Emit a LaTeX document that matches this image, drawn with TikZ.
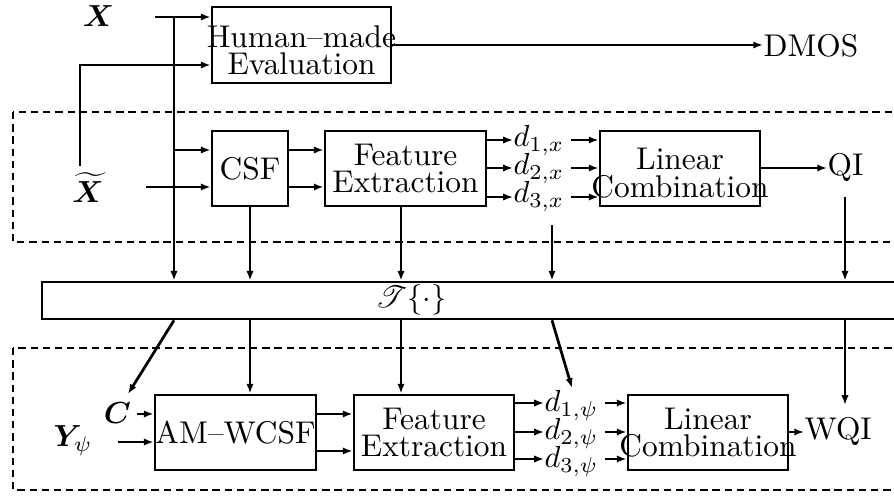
\documentclass[tikz,border=0pt]{standalone}
\usepackage{amsmath,amssymb,bm,mathrsfs}
\usetikzlibrary{arrows.meta,calc}
\newcommand\ovl[1]{\makebox[0pt]{#1}}
\begin{document}
\begin{tikzpicture}[x=0.328pt,y=-0.328pt,
  every node/.style={font=\fontsize{10.3}{9}\selectfont, inner sep=0pt},
  blk/.style={draw, line width=0.9pt, align=center, minimum height=24.6pt},
  ln/.style={line width=0.9pt},
  arr/.style={line width=0.9pt, -{Latex[length=3.2pt,width=2.4pt]}},
  dbox/.style={line width=0.9pt, dash pattern=on 2.4pt off 1.6pt},
  lab/.style={anchor=base west}]
\useasboundingbox (0,0) rectangle (894,496);

% dashed regions
\draw[dbox] (13,112) rectangle (920,242);
\draw[dbox] (13,348) rectangle (920,490);

% boxes
\node[blk, minimum width=58.7pt, minimum height=24.9pt] (hm) at (301.5,45) {\ovl{\rule{0pt}{10.7pt}Human--made}\\\ovl{Evaluation}};
\node[blk, minimum width=24.9pt] (csf) at (250,168.5) {CSF};
\node[blk, minimum width=52.8pt] (fe1) at (405.5,168.5) {\ovl{Feature}\\\ovl{Extraction}};
\node[blk, minimum width=52.5pt] (lc1) at (680,168.5) {\ovl{\rule{0pt}{10.2pt}Linear}\\\ovl{Combination}};
\node[draw, line width=0.9pt, minimum width=287.3pt, minimum height=12.1pt] (tb) at (480,300.5) {};
\node (tt) at (411,300) {$\mathscr{T}\{\cdot\}$};
\node[blk, minimum width=52.8pt] (amw) at (235.5,432.5) {\ovl{AM--WCSF}};
\node[blk, minimum width=52.5pt] (fe2) at (434,432.5) {\ovl{Feature}\\\ovl{Extraction}};
\node[blk, minimum width=52.5pt] (lc2) at (708,432.5) {\ovl{Linear}\\\ovl{Combination}};

% labels
\node[anchor=base] (x) at (98.5,27) {$\bm{X}$};
\node[anchor=base, font=\fontsize{10}{12}\selectfont] (xt) at (88,203) {$\widetilde{\bm{X}}$};
\node[anchor=base] (c) at (117.5,424) {$\bm{C}$};
\node[lab] (y) at (53,447) {$\bm{Y}_{\psi}$};
\node[lab] (dmos) at (763,57) {DMOS};
\node[lab] (qi) at (827,176) {QI};
\node[lab] (wqi) at (804,440) {WQI};
\node[lab] (d1x) at (513,147) {$d_{1,x}$};
\node[lab] (d2x) at (513,175) {$d_{2,x}$};
\node[lab] (d3x) at (513,203) {$d_{3,x}$};
\node[lab] (d1p) at (544,412) {$d_{1,\psi}$};
\node[lab] (d2p) at (544,440) {$d_{2,\psi}$};
\node[lab] (d3p) at (544,468) {$d_{3,\psi}$};

% reference coordinates
\coordinate (xin) at (155,17);
\coordinate (xj) at (174,17);
\coordinate (xtv) at (80,166);
\coordinate (xtin) at (146,187);
\coordinate (csfA) at ($(csf.west)+(0,-18.5)$);
\coordinate (csfB) at ($(csf.west)+(0,18.5)$);
\coordinate (r1) at (0,140);
\coordinate (r2) at (0,168);
\coordinate (r3) at (0,197);
\coordinate (fev) at (401,0);
\coordinate (d3v) at (552,225);
\coordinate (qid) at (845,197);
\coordinate (ctip) at (128,394);
\coordinate (dtip) at (572,388);
\coordinate (wtip) at (845,405);
\coordinate (cin) at (137,414);
\coordinate (yin) at (118,442);
\coordinate (amA) at ($(amw.east)+(0,-18.5)$);
\coordinate (amB) at ($(amw.east)+(0,18.5)$);
\coordinate (r4) at (0,403);
\coordinate (r5) at (0,432);
\coordinate (r6) at (0,459);

% top: inputs to human evaluation
\draw[arr] (xin) -- (xin -| hm.west);
\draw[arr] (xtv) |- ($(hm.west)+(0,20)$);
\draw[arr] (hm.east) -- (hm.east -| dmos.west);

% upper chain
\draw[arr] (xj) -- (xj |- tb.north);
\draw[arr] (xj |- csfA) -- (csfA);
\draw[arr] (xtin) -- (xtin -| csf.west);
\draw[arr] (csfA -| csf.east) -- (csfA -| fe1.west);
\draw[arr] (csfB -| csf.east) -- (csfB -| fe1.west);
\draw[arr] (fe1.east |- r1) -- (d1x.west |- r1);
\draw[arr] (fe1.east |- r2) -- (d2x.west |- r2);
\draw[arr] (fe1.east |- r3) -- (d3x.west |- r3);
\draw[arr, shorten <=2pt] (d1x.east |- r1) -- (lc1.west |- r1);
\draw[arr, shorten <=2pt] (d2x.east |- r2) -- (lc1.west |- r2);
\draw[arr, shorten <=2pt] (d3x.east |- r3) -- (lc1.west |- r3);
\draw[arr] (lc1.east |- r2) -- (qi.west |- r2);

% into T
\draw[arr] (csf.south) -- (csf.south |- tb.north);
\draw[arr] (fev |- fe1.south) -- (fev |- tb.north);
\draw[arr] (d3v) -- (d3v |- tb.north);
\draw[arr] (qid) -- (qid |- tb.north);

% out of T
\draw[arr] (xj |- tb.south) -- (ctip);
\draw[arr] (csf.south |- tb.south) -- (csf.south |- amw.north);
\draw[arr] (fev |- tb.south) -- (fev |- fe2.north);
\draw[arr] (d3v |- tb.south) -- (dtip);
\draw[arr] (qid |- tb.south) -- (wtip);

% lower chain
\draw[arr] (cin) -- (cin -| amw.west);
\draw[arr] (yin) -- (yin -| amw.west);
\draw[arr] (amA) -- (amA -| fe2.west);
\draw[arr] (amB) -- (amB -| fe2.west);
\draw[arr] (fe2.east |- r4) -- (d1p.west |- r4);
\draw[arr] (fe2.east |- r5) -- (d2p.west |- r5);
\draw[arr] (fe2.east |- r6) -- (d3p.west |- r6);
\draw[arr, shorten <=2pt] (d1p.east |- r4) -- (lc2.west |- r4);
\draw[arr, shorten <=2pt] (d2p.east |- r5) -- (lc2.west |- r5);
\draw[arr, shorten <=2pt] (d3p.east |- r6) -- (lc2.west |- r6);
\draw[arr] (lc2.east |- r5) -- (wqi.west |- r5);
\end{tikzpicture}
\end{document}
